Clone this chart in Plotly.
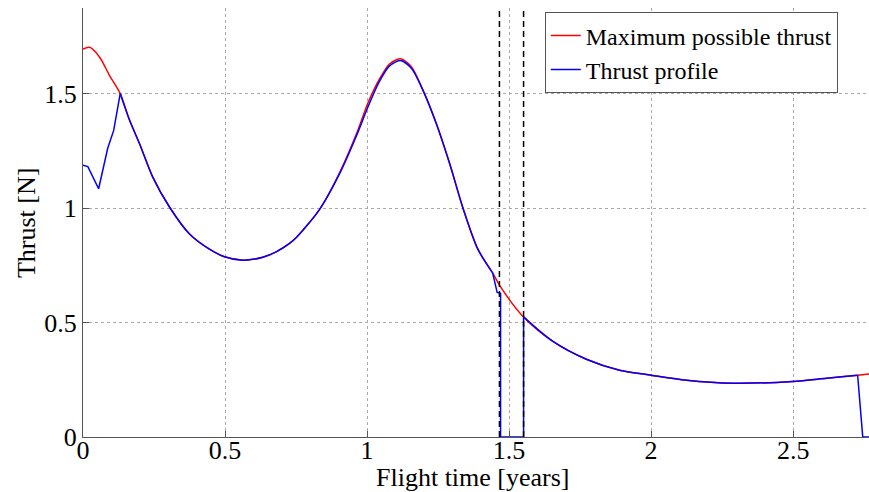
import plotly.graph_objects as go

# Maximum possible thrust (red) — flight time [years], thrust [N]
max_t = [0.0, 0.023, 0.058, 0.093, 0.131, 0.164, 0.199, 0.246, 0.305, 0.375, 0.445, 0.498,
         0.563, 0.633, 0.680, 0.727, 0.751, 0.833, 0.903, 0.968, 1.003, 1.044, 1.079, 1.117,
         1.156, 1.197, 1.244, 1.291, 1.337, 1.390, 1.442, 1.470, 1.548, 1.653, 1.772, 1.889,
         2.001, 2.125, 2.287, 2.498, 2.618, 2.727, 2.767]
max_thrust = [1.695, 1.703, 1.661, 1.581, 1.501, 1.384, 1.282, 1.135, 1.004, 0.887, 0.821, 0.788,
              0.773, 0.786, 0.809, 0.846, 0.872, 0.995, 1.155, 1.342, 1.460, 1.565, 1.630, 1.653,
              1.618, 1.515, 1.369, 1.194, 1.003, 0.821, 0.717, 0.656, 0.528, 0.419, 0.340, 0.292,
              0.270, 0.248, 0.235, 0.243, 0.257, 0.270, 0.275]

# Thrust profile (blue)
prof_t = [0.0, 0.017, 0.055, 0.087, 0.108, 0.131, 0.164, 0.199, 0.246, 0.305, 0.375, 0.445, 0.498,
          0.563, 0.633, 0.680, 0.727, 0.751, 0.833, 0.903, 0.968, 1.003, 1.044, 1.079, 1.117,
          1.156, 1.197, 1.244, 1.291, 1.337, 1.390, 1.442, 1.458, 1.470, 1.470, 1.551, 1.551,
          1.653, 1.772, 1.889, 2.001, 2.125, 2.287, 2.498, 2.618, 2.727, 2.745, 2.767]
prof_thrust = [1.188, 1.182, 1.085, 1.262, 1.340, 1.501, 1.384, 1.282, 1.135, 1.004, 0.887, 0.821, 0.788,
               0.773, 0.786, 0.809, 0.846, 0.872, 0.995, 1.150, 1.332, 1.442, 1.555, 1.622, 1.645,
               1.612, 1.515, 1.369, 1.194, 1.003, 0.821, 0.717, 0.632, 0.628, 0.0, 0.0, 0.525,
               0.419, 0.340, 0.292, 0.270, 0.248, 0.235, 0.243, 0.257, 0.270, 0.0, 0.0]

# Coast arc boundaries (dashed lines)
coast_bounds = [1.466, 1.551]

x_ticks = [0, 0.5, 1, 1.5, 2, 2.5]
x_tick_labels = ["0", "0.5", "1", "1.5", "2", "2.5"]
y_ticks = [0, 0.5, 1, 1.5]
y_tick_labels = ["0", "0.5", "1", "1.5"]

FONT = "Liberation Serif"
RED = "#ff0000"
BLUE = "#0000ff"

fig = go.Figure()
fig.add_trace(go.Scatter(x=max_t, y=max_thrust, mode="lines", name="Maximum possible thrust",
                         legendgroup="max",
                         line=dict(color=RED, width=1.5, shape="spline", smoothing=0.8)))

# Blue profile drawn piecewise: smooth arcs where it follows the curve, straight at the kinks
def idx(t_val, y_val=None):
    for i, (t, y) in enumerate(zip(prof_t, prof_thrust)):
        if abs(t - t_val) < 1e-9 and (y_val is None or abs(y - y_val) < 1e-9):
            return i
    raise ValueError

segments = [
    (0, idx(0.131), "linear"),
    (idx(0.131), idx(1.442), "spline"),
    (idx(1.442), idx(1.551, 0.525), "linear"),
    (idx(1.551, 0.525), idx(2.727), "spline"),
    (idx(2.727), len(prof_t) - 1, "linear"),
]
for k, (a, b, shp) in enumerate(segments):
    line = dict(color=BLUE, width=1.5, shape=shp)
    if shp == "spline":
        line["smoothing"] = 0.8
    fig.add_trace(go.Scatter(x=prof_t[a:b + 1], y=prof_thrust[a:b + 1], mode="lines",
                             name="Thrust profile", legendgroup="profile",
                             showlegend=(k == 0), line=line))

for xb in coast_bounds:
    fig.add_shape(type="line", x0=xb, x1=xb, xref="x", y0=0, y1=1, yref="paper",
                  line=dict(color="black", width=1.5, dash="6px,4px"), layer="above")

axis_common = dict(
    showline=True, linecolor="#555555", linewidth=1,
    ticks="inside", ticklen=6, tickcolor="#555555",
    showgrid=True, gridcolor="#aaaaaa", griddash="dot", gridwidth=1,
    zeroline=False, tickfont=dict(family=FONT, size=26, color="black"),
    mirror=False, automargin=False,
)

fig.update_layout(
    width=869, height=492,
    margin=dict(l=83, r=0, t=8, b=55),
    paper_bgcolor="white", plot_bgcolor="white",
    font=dict(family=FONT, size=26, color="black"),
    xaxis=dict(range=[0, 2.767], tickvals=x_ticks, ticktext=x_tick_labels,
               ticklabelstandoff=-10, **axis_common),
    yaxis=dict(range=[0, 1.875], tickvals=y_ticks, ticktext=y_tick_labels, **axis_common),
    legend=dict(x=0.5875, y=0.99, xanchor="left", yanchor="top",
                bgcolor="white", bordercolor="#555555", borderwidth=1,
                font=dict(family=FONT, size=24), itemwidth=30, tracegroupgap=0),
    showlegend=True,
    annotations=[
        dict(text="Flight time [years]", xref="paper", yref="paper", x=0.496, y=-0.057,
             xanchor="center", yanchor="top", showarrow=False,
             font=dict(family=FONT, size=26, color="black")),
        dict(text="Thrust [N]", xref="paper", yref="paper", x=-0.071, y=0.499,
             xanchor="center", yanchor="middle", textangle=-90, showarrow=False,
             font=dict(family=FONT, size=26, color="black")),
    ],
)

fig.write_html("out.html", config={"displayModeBar": False},
               post_script="document.body.style.margin='0';")
